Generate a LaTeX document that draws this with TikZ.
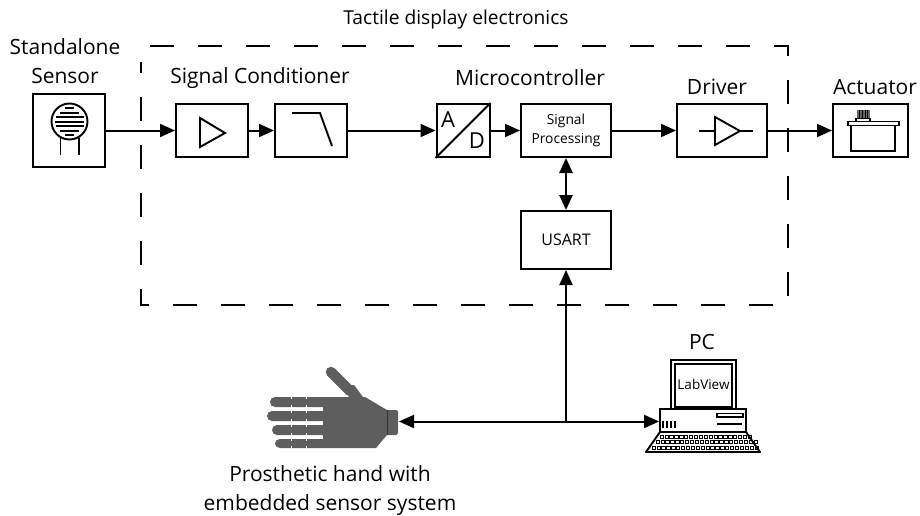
\documentclass[tikz,border=0pt]{standalone}
\usepackage{fontspec}
\setmainfont{Open Sans}
\usetikzlibrary{arrows.meta}
\tikzset{
 blockbox/.style={draw=black,line width=2pt,fill=white,inner sep=0pt,align=center},
 lbl/.style={inner sep=0pt,align=center,font=\fontsize{21}{29}\selectfont,text=black},
 conn/.style={line width=2pt,-{Triangle[length=15pt,width=13pt]}},
 bidir/.style={line width=2.6pt,{Triangle[length=15pt,width=13pt]}-{Triangle[length=15pt,width=13pt]}},
 icon/.style={line width=1.9pt,line join=miter},
 thin icon/.style={line width=1.1pt},
}
\definecolor{handgray}{HTML}{5E5E5E}
\begin{document}
\begin{tikzpicture}[x=1pt,y=-1pt]
\useasboundingbox (0,0) rectangle (920,516);
% dashed frame
\draw[line width=2pt,dash pattern=on 24pt off 24pt] (150,46) -- (788,46) -- (788,305) -- (141,305) -- (141,62);
% labels
\node[lbl,font=\fontsize{19.2}{29}\selectfont] (ttitle) at (456,20) {Tactile display electronics};
\node[lbl] (tsensor) at (65,61.5) {Standalone\\Sensor};
\node[lbl] (tcond) at (260,78) {Signal Conditioner};
\node[lbl] (tmcu) at (530,78) {Microcontroller};
\node[lbl] (tdrv) at (717,87) {Driver};
\node[lbl] (tact) at (875,87) {Actuator};
\node[lbl] (tpc) at (702,342) {PC};
\node[lbl] (thand) at (330,490.5) {Prosthetic hand with\\embedded sensor system};
% blocks
\node[blockbox,minimum width=72pt,minimum height=72pt] (sensor) at (69,130.5) {};
\node[blockbox,minimum width=72pt,minimum height=53pt] (amp) at (212,130.5) {};
\node[blockbox,minimum width=72pt,minimum height=53pt] (filter) at (311,130.5) {};
\node[blockbox,minimum width=53pt,minimum height=53pt] (adc) at (463,130.5) {};
\node[blockbox,minimum width=90pt,minimum height=53pt,font=\fontsize{13.8}{19}\selectfont] (sp) at (566,130.5) {Signal\\Processing};
\node[blockbox,minimum width=90pt,minimum height=58pt,font=\fontsize{16}{18}\selectfont] (usart) at (566,240) {USART};
\node[blockbox,minimum width=90pt,minimum height=53pt] (driver) at (722,130.5) {};
\node[blockbox,minimum width=75pt,minimum height=53pt] (actuator) at (870.5,130.5) {};
% sensor icon
\draw[icon] (69.5,121.5) circle (18pt);
\draw[thin icon] (65,108)--(74,108) (60,113)--(79,113) (55.5,117)--(83.5,117) (55,122)--(84,122) (55.5,126)--(83.5,126) (60,131)--(79,131) (65,135)--(74,135);
\draw[icon] (60.5,138)--(60.5,155) (79,138)--(79,155);
% amp icon
\draw[icon] (200,118)--(225,133)--(200,147)--cycle;
% filter icon
\draw[icon] (292,113)--(320,113)--(332,146);
% adc icon
\draw[line width=1.9pt] (adc.south west)--(adc.north east);
\node[inner sep=0pt,font=\fontsize{22}{24}\selectfont] (ta) at (448,120) {A};
\node[inner sep=0pt,font=\fontsize{22}{24}\selectfont] (td) at (477,141) {D};
% driver icon
\draw[icon,fill=white] (715,117)--(740,131)--(715,145)--cycle;
\draw[icon] (699,131)--(715,131) (740,131)--(753,131);
% actuator icon
\draw[icon] (851,125)--(851,151)--(895,151)--(895,125);
\draw[icon] (848,121.5) rectangle (899,125.5);
\draw[icon] (856,121.5)--(856,118.5)--(870,118.5)--(870,121.5);
\fill[black!60] (856.5,110.5) rectangle (869.5,118);
\draw[black,line width=.5pt] (859,110.5)--(859,118) (862,110.5)--(862,118) (865,110.5)--(865,118) (867.5,110.5)--(867.5,118);
% hand
\coordinate (handport) at (399,421.5);
\draw[handgray,line width=10.5pt,line cap=round] (331,372)--(350,391);
\fill[handgray] (349,397)--(342,385)--(354,385)--(363,397)--(365,397)--(387,410)--(396,410) to[out=0,in=90] (398,412)--(398,433) to[out=90,in=0] (396,435)--(387,435)--(376,448)--(280,448) to[out=180,in=-90] (275,443.5) to[out=90,in=180] (280,439)--(323,439)--(323,435)--(277,435) to[out=180,in=-90] (272,430) to[out=90,in=180] (277,425)--(323,425)--(323,421)--(272,421) to[out=180,in=-90] (267,416) to[out=90,in=180] (272,411)--(323,411)--(323,407)--(275,407) to[out=180,in=-90] (270,402) to[out=90,in=180] (275,397)--cycle;
\draw[white,line width=.8pt] (291,397)--(291,399) (306,397)--(306,399) (291,405)--(291,413) (306,405)--(306,413) (291,419)--(291,427) (306,419)--(306,427) (291,433)--(291,441) (306,433)--(306,441) (291,446)--(291,448) (306,446)--(306,448);
\draw[black!80,line width=.5pt] (387,410)--(387,435);
% pc icon
\draw[icon,fill=white] (671,360) rectangle (736,409);
\draw[line width=1.1pt] (675,364) rectangle (732,407);
\node[inner sep=0pt,font=\fontsize{13.5}{15}\selectfont] (tlab) at (703.5,384) {LabView};
\node[draw=black,line width=1.9pt,fill=white,inner sep=0pt,minimum width=86pt,minimum height=23pt] (pc) at (703,420.5) {};
\draw[line width=1.3pt] (717,413.5) rectangle (743,417);
\draw[line width=1.3pt] (717,424)--(742,424);
\draw[line width=1.5pt] (663,421)--(663,428) (667,421)--(667,428) (671,421)--(671,428) (675,421)--(675,428);
\draw[icon,line join=round] (660,432)--(746,432)--(760,452)--(646,452)--cycle;
\foreach \r/\xa/\yy/\nn in {0/660/436.5/18,1/656/442/20,2/652/447.5/21}{
 \foreach \k in {0,...,\nn}{
  \draw[line width=.7pt] ({\xa+\k*4.9},\yy-1.6) rectangle ++(3.3,3.2);
 }
}
% connectors
\draw[conn] (sensor.east |- amp.west) -- (amp.west);
\draw[conn] (amp.east) -- (filter.west);
\draw[conn] (filter.east) -- (adc.west);
\draw[conn] (adc.east) -- (sp.west);
\draw[conn] (sp.east) -- (driver.west);
\draw[conn] (driver.east) -- (actuator.west);
\draw[bidir] (sp.south) -- (usart.north);
\coordinate (junction) at (566,421.5);
\draw[conn] (junction) -- (usart.south);
\draw[conn] (junction) -- (handport);
\draw[conn] (junction) -- (pc.west |- junction);
\end{tikzpicture}
\end{document}
